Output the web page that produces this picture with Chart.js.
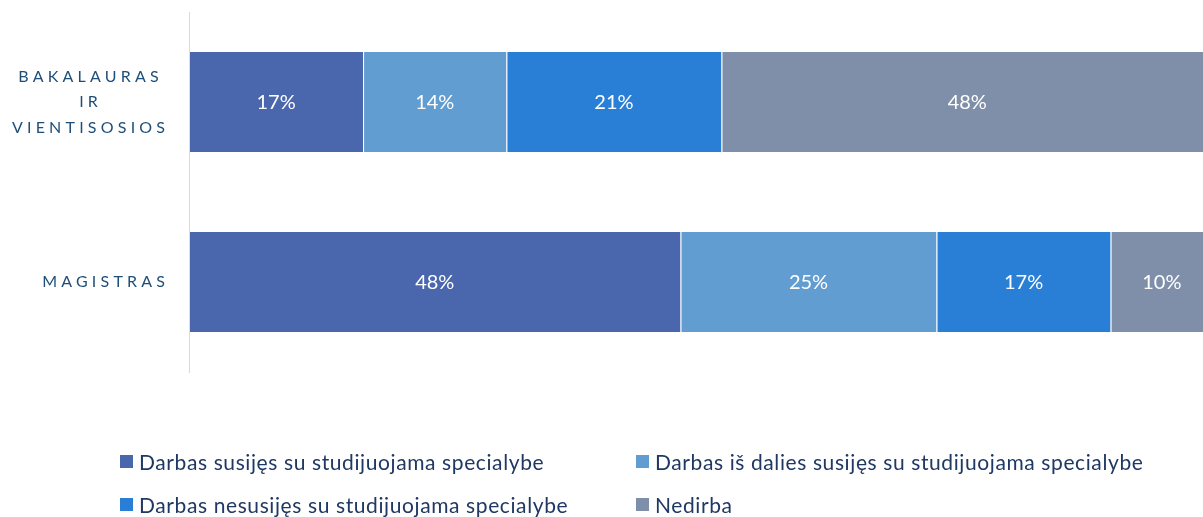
<!DOCTYPE html>
<html>
<head>
<meta charset="utf-8">
<script src="https://cdn.jsdelivr.net/npm/chart.js@4"></script>
<style>
  html, body { margin: 0; padding: 0; background: #fff; overflow: hidden; }
  #wrap { position: relative; width: 1216px; height: 517px; }
  #chart { display: block; }
  #legend { position: absolute; left: 0; top: 0; font-family: Lato, sans-serif; font-size: 21px; letter-spacing: 0.6px; color: #1f3864; }
  .item { position: absolute; display: flex; align-items: center; white-space: nowrap; }
  .box { width: 13px; height: 13px; margin-right: 6px; }
</style>
</head>
<body>
<div id="wrap">
  <canvas id="chart" width="1216" height="517"></canvas>
  <div id="legend"></div>
</div>
<script>
const categories = [['BAKALAURAS', 'IR', 'VIENTISOSIOS'], ['MAGISTRAS']];
const seriesNames = [
  'Darbas susijęs su studijuojama specialybe',
  'Darbas iš dalies susijęs su studijuojama specialybe',
  'Darbas nesusijęs su studijuojama specialybe',
  'Nedirba'
];
const susijes = [17, 48];
const isDalies = [14, 25];
const nesusijes = [21, 17];
const nedirba = [48, 10];
const colors = ['#4a66ac', '#629dd1', '#297fd5', '#7f8fa9'];

const seriesValues = [susijes, isDalies, nesusijes, nedirba];

// white % labels in the middle of each segment
const barLabels = {
  id: 'barLabels',
  afterDatasetsDraw(chart) {
    const ctx = chart.ctx;
    ctx.save();
    ctx.font = '20px Lato, sans-serif';
    ctx.fillStyle = '#ffffff';
    ctx.textAlign = 'center';
    ctx.textBaseline = 'middle';
    chart.data.datasets.forEach((ds, i) => {
      chart.getDatasetMeta(i).data.forEach((el, j) => {
        ctx.fillText(ds.data[j] + '%', (el.x + el.base) / 2, el.y + 1);
      });
    });
    ctx.restore();
  }
};

// category labels, spaced out, block right aligned and lines centred
const catLabels = {
  id: 'catLabels',
  afterDraw(chart) {
    const ctx = chart.ctx;
    const y = chart.scales.y;
    const sp = 4.2;
    ctx.save();
    ctx.font = '16px Lato, sans-serif';
    ctx.fillStyle = '#1f4e79';
    ctx.letterSpacing = sp + 'px';
    ctx.textAlign = 'left';
    ctx.textBaseline = 'middle';
    categories.forEach((lines, i) => {
      const cy = y.getPixelForValue(i);
      const lh = 25.5;
      const widths = lines.map(t => ctx.measureText(t).width - sp);
      const blockW = Math.max(...widths);
      const cx = 165 - blockW / 2;
      lines.forEach((t, k) => {
        ctx.fillText(t, cx - widths[k] / 2, cy + (k - (lines.length - 1) / 2) * lh);
      });
    });
    ctx.restore();
  }
};

new Chart(document.getElementById('chart'), {
  type: 'bar',
  data: {
    labels: categories.map(c => c.join(' ')),
    datasets: seriesNames.map((name, i) => ({
      label: name,
      data: seriesValues[i],
      backgroundColor: colors[i],
      borderColor: 'rgba(255,255,255,0.15)',
      borderWidth: { left: 1, right: 0, top: 0, bottom: 0 },
      borderSkipped: false,
      barPercentage: 1,
      categoryPercentage: 100 / 180
    }))
  },
  options: {
    indexAxis: 'y',
    responsive: false,
    animation: false,
    layout: { padding: { top: 12, bottom: 145, right: 3, left: 0 } },
    plugins: {
      legend: { display: false },
      tooltip: { enabled: false }
    },
    scales: {
      x: {
        stacked: true,
        min: 0,
        max: 100,
        display: false
      },
      y: {
        stacked: true,
        grid: { display: false },
        border: { display: true, color: '#d9d9d9', width: 1 },
        ticks: { display: false },
        afterFit(scale) { scale.width = 189; }
      }
    }
  },
  plugins: [barLabels, catLabels]
});

// legend laid out in two columns like the original
const legend = document.getElementById('legend');
const pos = [[120, 462], [636, 462], [120, 505], [636, 505]];
seriesNames.forEach((name, i) => {
  const d = document.createElement('div');
  d.className = 'item';
  d.style.left = pos[i][0] + 'px';
  d.style.top = (pos[i][1] - 13) + 'px';
  d.innerHTML = '<span class="box" style="background:' + colors[i] + '"></span><span>' + name + '</span>';
  legend.appendChild(d);
});
</script>
</body>
</html>
